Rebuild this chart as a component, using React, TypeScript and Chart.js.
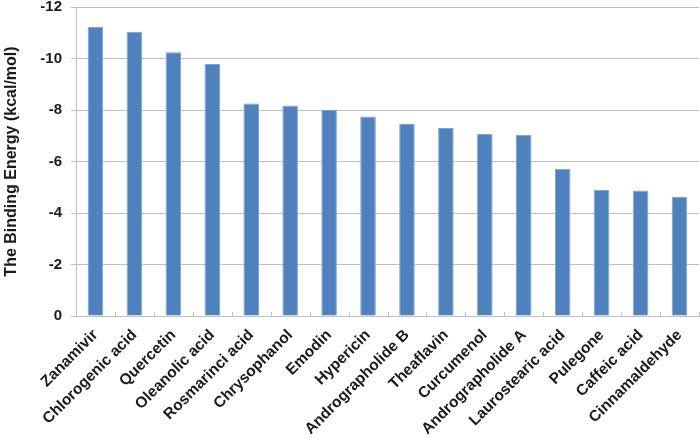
import React, { useEffect, useRef } from "react";
import { Chart, registerables } from "chart.js";

Chart.register(...registerables);

const categories = [
  "Zanamivir",
  "Chlorogenic acid",
  "Quercetin",
  "Oleanolic acid",
  "Rosmarinci acid",
  "Chrysophanol",
  "Emodin",
  "Hypericin",
  "Andrographolide B",
  "Theaflavin",
  "Curcumenol",
  "Andrographolide A",
  "Laurostearic acid",
  "Pulegone",
  "Caffeic acid",
  "Cinnamaldehyde",
];

const bindingEnergy = [
  -11.23, -11.04, -10.24, -9.79, -8.25, -8.17, -8.0, -7.75, -7.46, -7.3,
  -7.08, -7.04, -5.72, -4.9, -4.87, -4.63,
];

const yTitle = "The Binding Energy (kcal/mol)";

const innerTicks = {
  id: "innerTicks",
  afterDatasetsDraw(chart: any) {
    const x = chart.scales.x;
    const ctx = chart.ctx;
    const bottom = chart.chartArea.bottom;
    const n = categories.length;
    const step = n > 1 ? x.getPixelForValue(1) - x.getPixelForValue(0) : 0;
    ctx.save();
    ctx.strokeStyle = "#BFBFBF";
    ctx.lineWidth = 1;
    for (let i = 0; i < n; i++) {
      const px = x.getPixelForValue(i) + step / 2;
      const xx = Math.round(px) + 0.5;
      ctx.beginPath();
      ctx.moveTo(xx, bottom);
      ctx.lineTo(xx, bottom - 4);
      ctx.stroke();
    }
    ctx.restore();
  },
};

export default function App() {
  const ref = useRef<HTMLCanvasElement | null>(null);
  useEffect(() => {
    if (!ref.current) return;
    const chart = new Chart(ref.current, {
      type: "bar",
      data: {
        labels: categories,
        datasets: [
          {
            data: bindingEnergy,
            backgroundColor: "#4F81BD",
            borderColor: "#7EA3D2",
            borderWidth: 1,
            barPercentage: 0.4,
            categoryPercentage: 1,
          },
        ],
      },
      options: {
        animation: false,
        responsive: false,
        maintainAspectRatio: false,
        layout: { padding: { top: 7, right: 1, left: 0, bottom: 0 } },
        plugins: {
          legend: { display: false },
          tooltip: { enabled: false },
        },
        scales: {
          x: {
            grid: {
              offset: true,
              drawOnChartArea: false,
              drawTicks: false,
              tickLength: 8,
            },
            border: { display: true, color: "#BFBFBF", width: 1 },
            ticks: {
              autoSkip: false,
              maxRotation: 45,
              minRotation: 45,
              padding: 10,
              color: "#1a1a1a",
              font: { family: "Liberation Sans, Arial, sans-serif", size: 15.5, weight: "bold" },
            },
            afterFit(scale: any) {
              scale.height = 122;
              scale.paddingLeft = 0;
              scale.paddingRight = 0;
            },
          },
          y: {
            type: "linear",
            reverse: true,
            min: -12,
            max: 0,
            ticks: {
              stepSize: 2,
              padding: 9,
              color: "#1a1a1a",
              font: { family: "Liberation Sans, Arial, sans-serif", size: 15, weight: "bold" },
            },
            grid: {
              color: "#BFBFBF",
              tickLength: 5,
              drawTicks: true,
            },
            border: { display: true, color: "#BFBFBF", width: 1 },
            title: {
              display: true,
              text: yTitle,
              color: "#1a1a1a",
              padding: { top: 2, bottom: 2 },
              font: { family: "Liberation Sans, Arial, sans-serif", size: 16, weight: "bold" },
            },
            afterFit(scale: any) {
              scale.width = 76;
              scale.paddingTop = 0;
              scale.paddingBottom = 0;
            },
          },
        },
      },
      plugins: [innerTicks],
    });
    return () => chart.destroy();
  }, []);
  return (
    <div style={{ position: "fixed", left: 0, top: 0, width: 700, height: 438, background: "#fff" }}>
      <canvas ref={ref} width={700} height={438} style={{ display: "block" }} />
    </div>
  );
}
